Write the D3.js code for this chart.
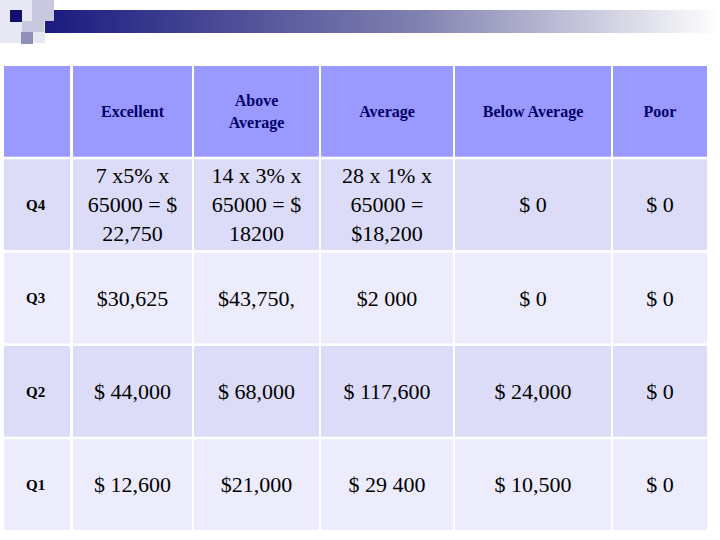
<!DOCTYPE html>
<html><head><meta charset="utf-8">
<script src="https://cdn.jsdelivr.net/npm/d3@7"></script>
<style>body{margin:0;background:#fff}</style></head>
<body><svg id="c" width="720" height="540"></svg>
<script>
const columns = ["", "Excellent", "Above\nAverage", "Average", "Below Average", "Poor"];
const rowLabels = ["Q4", "Q3", "Q2", "Q1"];
const cells = [
  ["7 x5% x\n65000 = $\n22,750", "14 x 3% x\n65000 = $\n18200", "28 x 1% x\n65000 =\n$18,200", "$ 0", "$ 0"],
  ["$30,625", "$43,750,", "$2 000", "$ 0", "$ 0"],
  ["$ 44,000", "$ 68,000", "$ 117,600", "$ 24,000", "$ 0"],
  ["$ 12,600", "$21,000", "$ 29 400", "$ 10,500", "$ 0"]
];
const colEdges = [4, 72, 193, 320, 454, 612, 708];
const svg = d3.select("#c");
const g = svg.append("defs").append("linearGradient").attr("id","gr");
g.append("stop").attr("offset","0").attr("stop-color","#1a1a80");
g.append("stop").attr("offset","0.55").attr("stop-color","#8080b0");
g.append("stop").attr("offset","1").attr("stop-color","#ffffff");
svg.append("rect").attr("x",44).attr("y",10).attr("width",676).attr("height",23).attr("fill","url(#gr)");
svg.append("rect").attr("x",0).attr("y",0).attr("width",45).attr("height",43).attr("fill","#e8e8f2");
svg.append("rect").attr("x",10).attr("y",10).attr("width",12).attr("height",12).attr("fill","#101070");
svg.append("rect").attr("x",32).attr("y",0).attr("width",22).attr("height",21).attr("fill","#c8c8e0");
svg.append("rect").attr("x",22).attr("y",21).attr("width",22).attr("height",11).attr("fill","#c8c8e0");
svg.append("rect").attr("x",21).attr("y",32).attr("width",12).attr("height",12).attr("fill","#9090b8");

const y = d3.scaleBand().domain(["H", ...rowLabels]).range([66, 530]).paddingInner(0.028);
const x = i => colEdges[i];
const rowFill = ["#9999ff", "#dcdcf8", "#ececfc", "#dcdcf8", "#ececfc"];
const allRows = [["", ...columns.slice(1)], ...rowLabels.map((r,i)=>[r, ...cells[i]])];
const keys = ["H", ...rowLabels];
allRows.forEach((row, ri) => {
  const y0 = y(keys[ri]), h = y.bandwidth();
  row.forEach((txt, ci) => {
    const x0 = x(ci) + (ci ? 1 : 0), w = x(ci+1) - x(ci) - 2;
    svg.append("rect").attr("x", x0).attr("y", y0).attr("width", w).attr("height", h).attr("fill", rowFill[ri]);
    const lines = txt.split("\n");
    const header = ri === 0, label = ci === 0;
    const fs = header ? 16 : label ? 15 : 22;
    const lh = header ? 22 : 29;
    const t = svg.append("text").attr("font-family","Liberation Serif, Times New Roman, serif")
      .attr("font-size", fs).attr("font-weight", header || label ? "bold" : "normal")
      .attr("fill", header ? "#000066" : "#000")
      .attr("text-anchor", label ? "start" : "middle");
    lines.forEach((l, li) => {
      t.append("tspan").attr("x", label ? x0 + 22 : x0 + w/2)
        .attr("y", y0 + h/2 + (li - (lines.length-1)/2) * lh + fs*0.35).text(l);
    });
  });
});
</script></body></html>
